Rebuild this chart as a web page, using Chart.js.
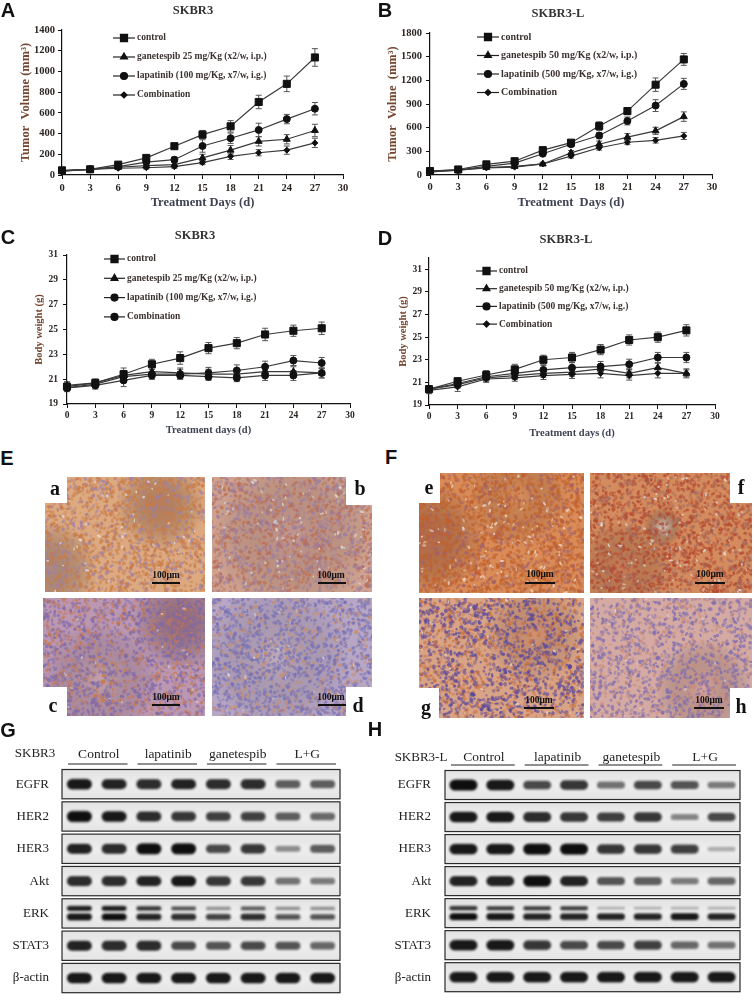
<!DOCTYPE html>
<html>
<head>
<meta charset="utf-8">
<script src="https://cdn.jsdelivr.net/npm/chart.js@4.4.1/dist/chart.umd.min.js"></script>
<style>
  html, body { margin: 0; padding: 0; background: #fff; }
  #page { position: relative; width: 754px; height: 1007px; overflow: hidden; background: #fff; }
  canvas { position: absolute; }
  .t { position: absolute; white-space: nowrap; line-height: 1; transform: translate(-50%, -50%); }
  .panel { font: bold 20px "Liberation Sans", Arial, sans-serif; color: #111; }
  .title { font: bold 12.5px "Liberation Serif", serif; color: #333; }
  .tag { font: bold 20px "Liberation Serif", serif; color: #111; }
  .sb { font: bold 9.5px "Liberation Serif", serif; color: #111; }
  .cell { font: 13px "Liberation Serif", serif; color: #222; }
  .bar { position: absolute; height: 2px; background: #111; }
</style>
</head>
<body>
<div id="page">
  <canvas id="cA" width="377" height="212" style="left:0;top:0"></canvas>
  <canvas id="cB" width="377" height="212" style="left:377px;top:0"></canvas>
  <canvas id="cC" width="377" height="228" style="left:0;top:212px"></canvas>
  <canvas id="cD" width="377" height="228" style="left:377px;top:212px"></canvas>

  <canvas id="ta" width="160" height="115" style="left:45px;top:477px"></canvas>
  <canvas id="tb" width="160" height="115" style="left:212px;top:477px"></canvas>
  <canvas id="tc" width="162" height="118" style="left:43px;top:598px"></canvas>
  <canvas id="td" width="160" height="118" style="left:212px;top:598px"></canvas>
  <canvas id="te" width="165" height="120" style="left:419px;top:473px"></canvas>
  <canvas id="tf" width="162" height="120" style="left:590px;top:473px"></canvas>
  <canvas id="tg" width="165" height="120" style="left:419px;top:598px"></canvas>
  <canvas id="th" width="162" height="120" style="left:590px;top:598px"></canvas>

  <canvas id="cG" width="377" height="267" style="left:0;top:740px"></canvas>
  <canvas id="cH" width="377" height="267" style="left:377px;top:740px"></canvas>

  <div class="t panel" style="left:8px;top:10px">A</div>
  <div class="t panel" style="left:385px;top:10px">B</div>
  <div class="t panel" style="left:8px;top:237px">C</div>
  <div class="t panel" style="left:385px;top:238px">D</div>
  <div class="t panel" style="left:7px;top:458px">E</div>
  <div class="t panel" style="left:391px;top:457px">F</div>
  <div class="t panel" style="left:8px;top:730px">G</div>
  <div class="t panel" style="left:375px;top:729px">H</div>

  <div class="t title" style="left:193px;top:10px">SKBR3</div>
  <div class="t title" style="left:558px;top:13px">SKBR3-L</div>
  <div class="t title" style="left:195px;top:235px">SKBR3</div>
  <div class="t title" style="left:566px;top:239px">SKBR3-L</div>

  <div class="t tag" style="left:55px;top:488px">a</div>
  <div class="t tag" style="left:360px;top:488px">b</div>
  <div class="t tag" style="left:53px;top:705px">c</div>
  <div class="t tag" style="left:358px;top:705px">d</div>
  <div class="t tag" style="left:429px;top:487px">e</div>
  <div class="t tag" style="left:741px;top:487px">f</div>
  <div class="t tag" style="left:426px;top:707px">g</div>
  <div class="t tag" style="left:741px;top:706px">h</div>

  <div class="t sb" style="left:166px;top:575px">100μm</div><div class="bar" style="left:152px;top:582px;width:28px"></div>
  <div class="t sb" style="left:331px;top:575px">100μm</div><div class="bar" style="left:318px;top:582px;width:28px"></div>
  <div class="t sb" style="left:166px;top:697px">100μm</div><div class="bar" style="left:152px;top:704px;width:28px"></div>
  <div class="t sb" style="left:331px;top:697px">100μm</div><div class="bar" style="left:318px;top:704px;width:28px"></div>
  <div class="t sb" style="left:540px;top:574px">100μm</div><div class="bar" style="left:525px;top:582px;width:30px"></div>
  <div class="t sb" style="left:710px;top:574px">100μm</div><div class="bar" style="left:695px;top:582px;width:30px"></div>
  <div class="t sb" style="left:539px;top:700px">100μm</div><div class="bar" style="left:524px;top:707px;width:30px"></div>
  <div class="t sb" style="left:709px;top:700px">100μm</div><div class="bar" style="left:694px;top:707px;width:30px"></div>

  <div class="t cell" style="left:35px;top:753px">SKBR3</div>
  <div class="t cell" style="left:421px;top:757px">SKBR3-L</div>
</div>

<script>
// ---- growth curves (days 0..27)
const days = [0, 3, 6, 9, 12, 15, 18, 21, 24, 27];
const dayTicks = [0, 3, 6, 9, 12, 15, 18, 21, 24, 27, 30];
const volTicksA = [0, 200, 400, 600, 800, 1000, 1200, 1400];
const volTicksB = [0, 300, 600, 900, 1200, 1500, 1800];
const weightTicks = [19, 21, 23, 25, 27, 29, 31];

const labelsSKBR3 = ['control', 'ganetespib 25 mg/Kg (x2/w, i.p.)', 'lapatinib (100 mg/Kg, x7/w, i.g.)', 'Combination'];
const labelsSKBR3L = ['control', 'ganetespib 50 mg/Kg (x2/w, i.p.)', 'lapatinib (500 mg/Kg, x7/w, i.g.)', 'Combination'];

// A: SKBR3 tumor volume
const aControl = [45, 55, 100, 165, 278, 390, 470, 705, 880, 1135];
const aControlErr = [10, 10, 15, 20, 25, 40, 55, 65, 75, 85];
const aGanetespib = [40, 55, 75, 90, 100, 165, 240, 325, 345, 430];
const aGanetespibErr = [8, 8, 12, 15, 20, 35, 45, 45, 45, 60];
const aLapatinib = [40, 55, 80, 125, 148, 280, 355, 435, 540, 640];
const aLapatinibErr = [8, 8, 12, 20, 25, 60, 50, 65, 45, 60];
const aCombination = [38, 55, 65, 70, 80, 120, 180, 215, 240, 310];
const aCombinationErr = [8, 8, 10, 12, 15, 20, 30, 30, 40, 45];

// B: SKBR3-L tumor volume
const bControl = [50, 70, 135, 175, 315, 410, 620, 810, 1145, 1465];
const bControlErr = [10, 12, 15, 20, 25, 30, 55, 45, 85, 75];
const bGanetespib = [40, 60, 95, 110, 140, 280, 390, 480, 560, 740];
const bGanetespibErr = [8, 10, 12, 15, 20, 30, 40, 45, 45, 60];
const bLapatinib = [50, 65, 110, 150, 270, 390, 500, 685, 880, 1155];
const bLapatinibErr = [8, 10, 15, 20, 25, 30, 40, 50, 75, 70];
const bCombination = [40, 60, 90, 100, 140, 240, 345, 415, 440, 495];
const bCombinationErr = [8, 10, 12, 15, 20, 25, 30, 30, 35, 45];

// C: SKBR3 body weight
const cControl = [20.4, 20.7, 21.4, 22.2, 22.7, 23.5, 23.9, 24.6, 24.9, 25.1];
const cControlErr = [0.3, 0.3, 0.5, 0.4, 0.5, 0.45, 0.45, 0.5, 0.45, 0.5];
const cGanetespib = [20.5, 20.7, 21.3, 21.6, 21.5, 21.4, 21.4, 21.6, 21.6, 21.5];
const cGanetespibErr = [0.3, 0.3, 0.4, 0.4, 0.4, 0.4, 0.4, 0.4, 0.4, 0.4];
const cLapatinib = [20.3, 20.6, 21.2, 21.4, 21.4, 21.5, 21.7, 22.0, 22.5, 22.3];
const cLapatinibErr = [0.3, 0.3, 0.4, 0.4, 0.4, 0.45, 0.45, 0.45, 0.4, 0.45];
const cCombination = [20.3, 20.5, 20.9, 21.3, 21.3, 21.2, 21.1, 21.3, 21.3, 21.5];
const cCombinationErr = [0.3, 0.3, 0.5, 0.3, 0.3, 0.3, 0.3, 0.4, 0.4, 0.4];

// D: SKBR3-L body weight
const dControl = [20.4, 21.1, 21.65, 22.15, 23.0, 23.2, 23.9, 24.75, 25.0, 25.6];
const dControlErr = [0.3, 0.3, 0.4, 0.45, 0.4, 0.45, 0.45, 0.45, 0.45, 0.5];
const dGanetespib = [20.4, 20.8, 21.4, 21.6, 21.8, 21.9, 22.2, 21.8, 22.3, 21.8];
const dGanetespibErr = [0.3, 0.3, 0.3, 0.35, 0.35, 0.35, 0.4, 0.4, 0.4, 0.4];
const dLapatinib = [20.4, 20.9, 21.5, 21.8, 22.1, 22.3, 22.4, 22.6, 23.2, 23.2];
const dLapatinibErr = [0.3, 0.3, 0.35, 0.4, 0.4, 0.45, 0.45, 0.45, 0.45, 0.45];
const dCombination = [20.3, 20.6, 21.3, 21.4, 21.6, 21.7, 21.8, 21.6, 21.8, 21.8];
const dCombinationErr = [0.3, 0.4, 0.3, 0.3, 0.35, 0.35, 0.4, 0.4, 0.4, 0.3];

// ---- western blots: band darkness 0..1 per lane
const blotProteins = ['EGFR', 'HER2', 'HER3', 'Akt', 'ERK', 'STAT3', 'β-actin'];
const blotLanes = [1, 2, 3, 4, 5, 6, 7, 8];
const blotGroups = ['Control', 'lapatinib', 'ganetespib', 'L+G'];

const gEGFR = [0.95, 0.9, 0.85, 0.9, 0.85, 0.85, 0.6, 0.6];
const gHER2 = [1.0, 0.95, 0.85, 0.8, 0.75, 0.75, 0.6, 0.55];
const gHER3 = [0.9, 0.85, 1.0, 1.0, 0.7, 0.8, 0.35, 0.6];
const gAkt = [0.85, 0.85, 0.9, 0.95, 0.8, 0.8, 0.5, 0.45];
const gERKup = [0.95, 0.95, 0.8, 0.65, 0.4, 0.6, 0.4, 0.4];
const gERKlow = [0.95, 1.0, 0.9, 0.85, 0.75, 0.85, 0.65, 0.65];
const gSTAT3 = [0.9, 0.85, 0.85, 0.7, 0.65, 0.7, 0.65, 0.55];
const gActin = [0.95, 0.95, 0.95, 0.95, 0.95, 0.95, 0.95, 0.95];

const hEGFR = [1.0, 0.95, 0.7, 0.8, 0.5, 0.7, 0.65, 0.45];
const hHER2 = [0.95, 0.95, 0.85, 0.8, 0.75, 0.8, 0.4, 0.7];
const hHER3 = [0.95, 0.95, 1.0, 1.0, 0.8, 0.8, 0.75, 0.2];
const hAkt = [0.9, 0.9, 1.0, 0.9, 0.65, 0.6, 0.45, 0.55];
const hERKup = [0.8, 0.75, 0.75, 0.75, 0.2, 0.2, 0.2, 0.2];
const hERKlow = [1.0, 0.95, 0.9, 0.9, 0.9, 0.9, 0.95, 0.9];
const hSTAT3 = [0.95, 0.95, 0.8, 0.7, 0.7, 0.75, 0.55, 0.5];
const hActin = [0.95, 0.95, 0.95, 0.95, 0.95, 0.95, 0.95, 0.95];

const SERIF = '"Liberation Serif", "Times New Roman", serif';
const bold = size => ({ family: SERIF, size: size, weight: 'bold' });

// error bars drawn through the y scale
const errorBars = {
  id: 'errorBars',
  beforeDatasetsDraw(chart) {
    const ctx = chart.ctx, ys = chart.scales.y;
    ctx.save();
    ctx.strokeStyle = '#555';
    ctx.lineWidth = 1;
    chart.data.datasets.forEach((ds, i) => {
      if (!ds.errors) return;
      chart.getDatasetMeta(i).data.forEach((pt, j) => {
        const v = ds.data[j].y, e = ds.errors[j];
        const y1 = ys.getPixelForValue(v + e), y2 = ys.getPixelForValue(v - e);
        ctx.beginPath();
        ctx.moveTo(pt.x, y1); ctx.lineTo(pt.x, y2);
        ctx.moveTo(pt.x - 3, y1); ctx.lineTo(pt.x + 3, y1);
        ctx.moveTo(pt.x - 3, y2); ctx.lineTo(pt.x + 3, y2);
        ctx.stroke();
      });
    });
    ctx.restore();
  }
};

// legend placed inside the plot like the original
const insideLegend = {
  id: 'insideLegend',
  afterDraw(chart, args, o) {
    if (!o || o.x == null) return;
    const ctx = chart.ctx;
    ctx.save();
    chart.data.datasets.forEach((ds, i) => {
      const y = o.y + i * o.gap;
      ctx.strokeStyle = '#222';
      ctx.lineWidth = 1.2;
      ctx.beginPath(); ctx.moveTo(o.x, y); ctx.lineTo(o.x + o.len, y); ctx.stroke();
      ctx.fillStyle = '#111'; ctx.strokeStyle = '#111';
      Chart.helpers.drawPoint(ctx, { pointStyle: ds.pointStyle, radius: ds.pointRadius, rotation: 0, borderWidth: 1 }, o.x + o.len / 2, y);
      ctx.fillStyle = '#3b3230';
      ctx.font = 'bold ' + o.size + 'px ' + SERIF;
      ctx.textBaseline = 'middle';
      ctx.textAlign = 'left';
      ctx.fillText(ds.label, o.x + o.len + 2, y);
    });
    ctx.restore();
  }
};

function lineChart(id, o) {
  return new Chart(document.getElementById(id), {
    type: 'line',
    data: {
      datasets: o.series.map(s => ({
        label: s.label,
        data: days.map((d, i) => ({ x: d, y: s.values[i] })),
        errors: s.errors,
        borderColor: '#3a3a3a',
        borderWidth: 1.2,
        pointStyle: s.style,
        pointRadius: s.radius,
        pointBackgroundColor: '#111',
        pointBorderColor: '#111',
        pointBorderWidth: 1,
        tension: 0,
        fill: false,
        clip: false
      }))
    },
    options: {
      responsive: false,
      animation: false,
      events: [],
      layout: { padding: o.pad },
      plugins: { legend: { display: false }, tooltip: { enabled: false }, insideLegend: o.legend },
      scales: {
        x: {
          type: 'linear', min: 0, max: 30,
          afterBuildTicks: s => { s.ticks = dayTicks.map(v => ({ value: v })); },
          afterFit: s => { s.height = o.xH; },
          ticks: { font: bold(o.tickSize), color: '#2b2522', padding: o.xPad, maxRotation: 0, autoSkip: false,
                   callback: v => String(v) },
          grid: { drawOnChartArea: false, tickLength: 4, color: '#111' },
          border: { color: '#111', width: 1.2 },
          title: { display: true, text: o.xTitle, font: bold(o.titleSize), color: '#3e4252', padding: { top: 0, bottom: 0 } }
        },
        y: {
          type: 'linear', min: o.yMin, max: o.yMax,
          afterBuildTicks: s => { s.ticks = o.yTicks.map(v => ({ value: v })); },
          afterFit: s => { s.width = o.yW; },
          ticks: { font: bold(o.tickSize), color: '#2b2522', padding: o.yPad, autoSkip: false,
                   callback: v => String(v) },
          grid: { drawOnChartArea: false, tickLength: 4, color: '#111' },
          border: { color: '#111', width: 1.2 },
          title: { display: true, text: o.yTitle, font: bold(o.titleSize), color: '#74462f', padding: { top: o.yTitlePad, bottom: 0 } }
        }
      }
    },
    plugins: [errorBars, insideLegend]
  });
}

function four(labels, v, e, combStyle, combRadius) {
  return [
    { label: labels[0], values: v[0], errors: e[0], style: 'rect', radius: 5 },
    { label: labels[1], values: v[1], errors: e[1], style: 'triangle', radius: 4 },
    { label: labels[2], values: v[2], errors: e[2], style: 'circle', radius: 3.5 },
    { label: labels[3], values: v[3], errors: e[3], style: combStyle, radius: combRadius }
  ];
}

lineChart('cA', {
  series: four(labelsSKBR3, [aControl, aGanetespib, aLapatinib, aCombination],
    [aControlErr, aGanetespibErr, aLapatinibErr, aCombinationErr], 'rectRot', 3),
  pad: { left: 2, top: 30, right: 34, bottom: 2 }, yW: 60, xH: 35,
  yMin: 0, yMax: 1400, yTicks: volTicksA, tickSize: 10.5, titleSize: 12.5,
  xPad: 3, yPad: 3, yTitlePad: 16,
  xTitle: 'Treatment Days (d)', yTitle: 'Tumor  Volume (mm³)',
  legend: { x: 113, y: 38, gap: 19, len: 22, size: 9.5 }
});

lineChart('cB', {
  series: four(labelsSKBR3L, [bControl, bGanetespib, bLapatinib, bCombination],
    [bControlErr, bGanetespibErr, bLapatinibErr, bCombinationErr], 'rectRot', 3),
  pad: { left: 2, top: 33, right: 42, bottom: 2 }, yW: 51, xH: 35,
  yMin: 0, yMax: 1800, yTicks: volTicksB, tickSize: 10.5, titleSize: 12.5,
  xPad: 2, yPad: 4, yTitlePad: 6,
  xTitle: 'Treatment  Days (d)', yTitle: 'Tumor  Volme  (mm³)',
  legend: { x: 100, y: 37, gap: 18.5, len: 22, size: 10 }
});

lineChart('cC', {
  series: four(labelsSKBR3, [cControl, cGanetespib, cLapatinib, cCombination],
    [cControlErr, cGanetespibErr, cLapatinibErr, cCombinationErr], 'circle', 3.5),
  pad: { left: 2, top: 43, right: 27, bottom: 3 }, yW: 65, xH: 33,
  yMin: 19, yMax: 31, yTicks: weightTicks, tickSize: 9.5, titleSize: 10.5,
  xPad: 1.5, yPad: 5, yTitlePad: 30.5,
  xTitle: 'Treatment days (d)', yTitle: 'Body weight (g)',
  legend: { x: 104, y: 47, gap: 19.3, len: 21, size: 9.5 }
});

lineChart('cD', {
  series: four(labelsSKBR3L, [dControl, dGanetespib, dLapatinib, dCombination],
    [dControlErr, dGanetespibErr, dLapatinibErr, dCombinationErr], 'rectRot', 3),
  pad: { left: 2, top: 46, right: 39, bottom: 0 }, yW: 50, xH: 35,
  yMin: 19, yMax: 32, yTicks: weightTicks, tickSize: 9.5, titleSize: 10.5,
  xPad: 2.3, yPad: 3, yTitlePad: 17.7,
  xTitle: 'Treatment days (d)', yTitle: 'Body weight (g)',
  legend: { x: 99, y: 59, gap: 17.7, len: 21, size: 9.5 }
});

// ---- blots: each band is a point with an image point style
const bandCache = {};
function bandImage(w, a, b) {
  const key = w + '|' + a + '|' + b;
  if (bandCache[key]) return bandCache[key];
  const c = document.createElement('canvas');
  c.width = w; c.height = 26;
  const g = c.getContext('2d');
  g.filter = 'blur(1.1px)';
  const band = (d, cy, th) => {
    if (d <= 0) return;
    g.fillStyle = 'rgba(14,14,14,' + Math.min(1, 0.12 + 0.88 * d) + ')';
    g.beginPath();
    if (g.roundRect) g.roundRect(3, cy - th / 2, w - 6, th, th / 2);
    else g.ellipse(w / 2, cy, w / 2 - 3, th / 2, 0, 0, 2 * Math.PI);
    g.fill();
  };
  if (b == null) band(a, 13, 3 + 8 * a);
  else { band(a, 8, 2 + 3 * a); band(b, 16.5, 3 + 4 * b); }
  bandCache[key] = c;
  return c;
}

const blotFrames = {
  id: 'blotFrames',
  beforeDatasetsDraw(chart) {
    const ctx = chart.ctx, area = chart.chartArea, ys = chart.scales.y;
    const step = area.height / blotProteins.length;
    ctx.save();
    blotProteins.forEach((p, i) => {
      const yc = ys.getPixelForValue(i);
      const top = yc - step / 2 + 1.5, h = step - 3;
      const grd = ctx.createLinearGradient(0, top, 0, top + h);
      grd.addColorStop(0, '#e2e2e2'); grd.addColorStop(0.5, '#eeeeee'); grd.addColorStop(1, '#e4e4e4');
      ctx.fillStyle = grd;
      ctx.fillRect(area.left, top, area.width, h);
      ctx.strokeStyle = '#2a2a2a';
      ctx.lineWidth = 1.2;
      ctx.strokeRect(area.left, top, area.width, h);
    });
    ctx.restore();
  },
  afterDraw(chart, args, o) {
    // group names and their underlines, placed with the lane scale
    const ctx = chart.ctx, xs = chart.scales.x, top = chart.chartArea.top;
    ctx.save();
    ctx.strokeStyle = '#222';
    ctx.lineWidth = 1.2;
    ctx.fillStyle = '#222';
    ctx.font = '13.5px ' + SERIF;
    ctx.textAlign = 'center';
    ctx.textBaseline = 'middle';
    blotGroups.forEach((g, i) => {
      const l1 = blotLanes[i * 2], l2 = blotLanes[i * 2 + 1];
      const x1 = xs.getPixelForValue(l1 - 0.5) + 6;
      const x2 = xs.getPixelForValue(l2 + 0.5) - 4;
      ctx.beginPath(); ctx.moveTo(x1, top - 4); ctx.lineTo(x2, top - 4); ctx.stroke();
      ctx.fillText(g, xs.getPixelForValue((l1 + l2) / 2) + 2, top - o.labelDy);
    });
    ctx.restore();
  }
};

function blotChart(id, o) {
  const rows = [o.egfr, o.her2, o.her3, o.akt, null, o.stat3, o.actin];
  const datasets = rows.map((row, r) => ({
    data: blotLanes.map(l => ({ x: l, y: blotProteins[r] })),
    pointStyle: blotLanes.map((l, i) => row ? bandImage(o.bandW, row[i], null) : bandImage(o.bandW, o.erkUp[i], o.erkLow[i])),
    pointRadius: 3,
    showLine: false,
    clip: false
  }));
  return new Chart(document.getElementById(id), {
    type: 'scatter',
    data: { datasets },
    options: {
      responsive: false,
      animation: false,
      events: [],
      layout: { padding: o.pad },
      plugins: { legend: { display: false }, tooltip: { enabled: false }, blotFrames: { labelDy: o.labelDy } },
      scales: {
        x: { type: 'linear', min: 0.5, max: 8.5, display: false },
        y: {
          type: 'category', labels: blotProteins, offset: true,
          afterFit: s => { s.width = o.yW; },
          ticks: { font: { family: SERIF, size: 13 }, color: '#222', padding: o.yPad, autoSkip: false },
          grid: { display: false },
          border: { display: false }
        }
      }
    },
    plugins: [blotFrames]
  });
}

blotChart('cG', {
  egfr: gEGFR, her2: gHER2, her3: gHER3, akt: gAkt, erkUp: gERKup, erkLow: gERKlow, stat3: gSTAT3, actin: gActin,
  pad: { left: 0, top: 28, right: 37, bottom: 5 }, yW: 62, yPad: 5, labelDy: 14, bandW: 31
});

blotChart('cH', {
  egfr: hEGFR, her2: hHER2, her3: hHER3, akt: hAkt, erkUp: hERKup, erkLow: hERKlow, stat3: hSTAT3, actin: hActin,
  pad: { left: 0, top: 29, right: 14, bottom: 5 }, yW: 68, yPad: 6, labelDy: 12, bandW: 34
});

// ---- stained tissue photos (texture only, not data)
const tissueSpecs = [
  { id: 'ta', seed: 11, base: '#dca980', nuc: '#9c7fa8', brown: '#c97a46', pNuc: 0.35, cells: 1500, gaps: 45, gap: '#eaf0f2',
    blotches: [[0.72, 0.25, 0.28, 'rgba(150,85,60,0.5)'], [0.03, 0.8, 0.3, 'rgba(125,105,130,0.5)']], notch: [0, 0, 22, 26] },
  { id: 'tb', seed: 23, base: '#cfa28f', nuc: '#9a7ca2', brown: '#bb6c52', pNuc: 0.5, cells: 1500, gaps: 70, gap: '#dcebf0',
    blotches: [[0.5, 0.5, 0.5, 'rgba(175,130,140,0.35)']], notch: [134, 0, 26, 28] },
  { id: 'tc', seed: 37, base: '#bb97b2', nuc: '#7c68aa', brown: '#c67a52', pNuc: 0.6, cells: 1700, gaps: 20, gap: '#e6dcd8',
    blotches: [[0.85, 0.2, 0.3, 'rgba(130,70,80,0.55)'], [0.35, 0.7, 0.35, 'rgba(215,180,160,0.4)']], notch: [0, 89, 24, 29] },
  { id: 'td', seed: 41, base: '#b7a6c4', nuc: '#7670b6', brown: '#c88e6c', pNuc: 0.72, cells: 1700, gaps: 20, gap: '#e2e0ea',
    blotches: [[0.4, 0.5, 0.45, 'rgba(205,180,170,0.35)']], notch: [134, 89, 26, 29] },
  { id: 'te', seed: 53, base: '#d98c58', nuc: '#a0606e', brown: '#c0602c', pNuc: 0.3, cells: 1900, gaps: 110, gap: '#f3efe8',
    blotches: [[0.05, 0.55, 0.35, 'rgba(150,80,70,0.5)'], [0.6, 0.2, 0.3, 'rgba(220,150,100,0.4)']], notch: [0, 0, 21, 30] },
  { id: 'tf', seed: 67, base: '#d48c5e', nuc: '#a06a62', brown: '#b2462e', pNuc: 0.35, cells: 1800, gaps: 90, gap: '#e6f1f2',
    blotches: [[0.2, 0.8, 0.3, 'rgba(190,110,80,0.45)'], [0.45, 0.45, 0.12, 'rgba(235,240,240,0.8)']], notch: [140, 0, 22, 30] },
  { id: 'tg', seed: 79, base: '#d9a385', nuc: '#57479e', brown: '#c8703e', pNuc: 0.6, cells: 1900, gaps: 30, gap: '#efe6e0',
    blotches: [[0.7, 0.3, 0.3, 'rgba(200,120,90,0.4)']], notch: [0, 90, 20, 30] },
  { id: 'th', seed: 83, base: '#d4aaa2', nuc: '#7a6ab2', brown: '#c88a78', pNuc: 0.7, cells: 1400, gaps: 20, gap: '#ead8d6',
    blotches: [[0.7, 0.75, 0.3, 'rgba(225,160,140,0.5)']], notch: [140, 90, 22, 30] }
];

tissueSpecs.forEach(sp => {
  const cv = document.getElementById(sp.id);
  const w = cv.width, h = cv.height, g = cv.getContext('2d');
  let s = sp.seed;
  const rnd = () => ((s = (s * 1664525 + 1013904223) >>> 0) / 4294967296);
  g.fillStyle = sp.base;
  g.fillRect(0, 0, w, h);
  sp.blotches.forEach(([bx, by, r, col]) => {
    const grd = g.createRadialGradient(bx * w, by * h, 0, bx * w, by * h, r * w);
    grd.addColorStop(0, col); grd.addColorStop(1, 'rgba(0,0,0,0)');
    g.fillStyle = grd; g.fillRect(0, 0, w, h);
  });
  g.filter = 'blur(0.5px)';
  for (let i = 0; i < sp.cells; i++) {
    g.globalAlpha = 0.3 + rnd() * 0.45;
    g.fillStyle = rnd() < sp.pNuc ? sp.nuc : sp.brown;
    g.beginPath();
    g.ellipse(rnd() * w, rnd() * h, 1.1 + rnd() * 1.3, 0.9 + rnd() * 1.1, rnd() * Math.PI, 0, 2 * Math.PI);
    g.fill();
  }
  g.fillStyle = sp.gap;
  for (let i = 0; i < sp.gaps; i++) {
    g.globalAlpha = 0.4 + rnd() * 0.3;
    g.beginPath();
    g.ellipse(rnd() * w, rnd() * h, 0.8 + rnd() * 1.6, 0.6 + rnd() * 0.8, rnd() * Math.PI, 0, 2 * Math.PI);
    g.fill();
  }
  g.filter = 'none';
  g.globalAlpha = 1;
  g.clearRect(sp.notch[0], sp.notch[1], sp.notch[2], sp.notch[3]);
});
</script>
</body>
</html>
